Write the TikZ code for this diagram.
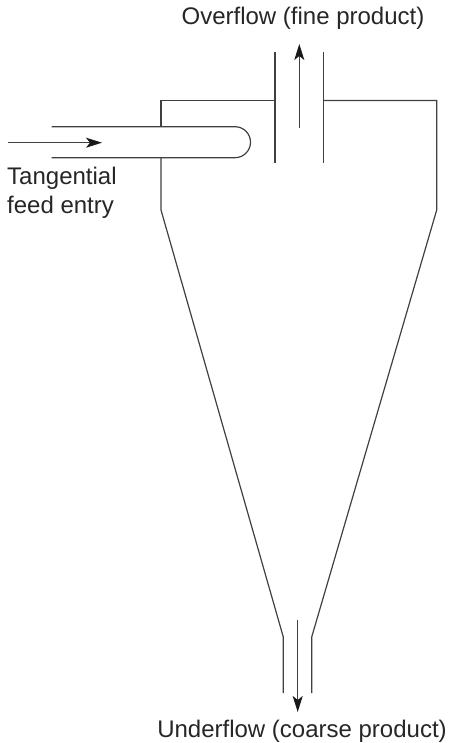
\documentclass[tikz,border=0pt]{standalone}
\usepackage{fontspec}
\setmainfont{Liberation Sans}
\usetikzlibrary{arrows.meta}
\tikzset{
  x=1pt,y=-1pt,
  wall/.style={draw=black!75,line width=1.2pt},
  flow/.style={draw=black!75,line width=1.2pt,-{Stealth[length=16pt,width=10pt,inset=4pt,color=black!90]}},
  lab/.style={font=\fontsize{24}{26}\selectfont,text=black!85,inner sep=0pt}
}
\begin{document}
\begin{tikzpicture}
\useasboundingbox (0,0) rectangle (449,743);
\draw[wall] (275,100.5) -- (161,100.5) -- (161,126.7);
\draw[wall] (161,157.7) -- (161,210) -- (283.3,637) -- (283.3,693);
\draw[wall] (323.5,100.5) -- (436.7,100.5) -- (436.7,210) -- (311.7,637) -- (311.7,693);
\draw[wall] (275,52) -- (275,162.7);
\draw[wall] (323.5,52) -- (323.5,162.7);
\draw[wall] (51.7,126.7) -- (235,126.7) arc[start angle=-90,end angle=90,radius=15.5] -- (51.7,157.7);
\draw[flow] (8,142.7) -- (102,142.7);
\draw[flow] (299.3,127.7) -- (299.3,44);
\draw[flow] (297.7,620) -- (297.7,712);
\node[lab,anchor=base west] at (7,185) {Tangential};
\node[lab,anchor=base west] at (7,214) {feed entry};
\node[lab,anchor=base] at (303,25) {Overflow (fine product)};
\node[lab,anchor=base] at (302,737) {Underflow (coarse product)};
\end{tikzpicture}
\end{document}
